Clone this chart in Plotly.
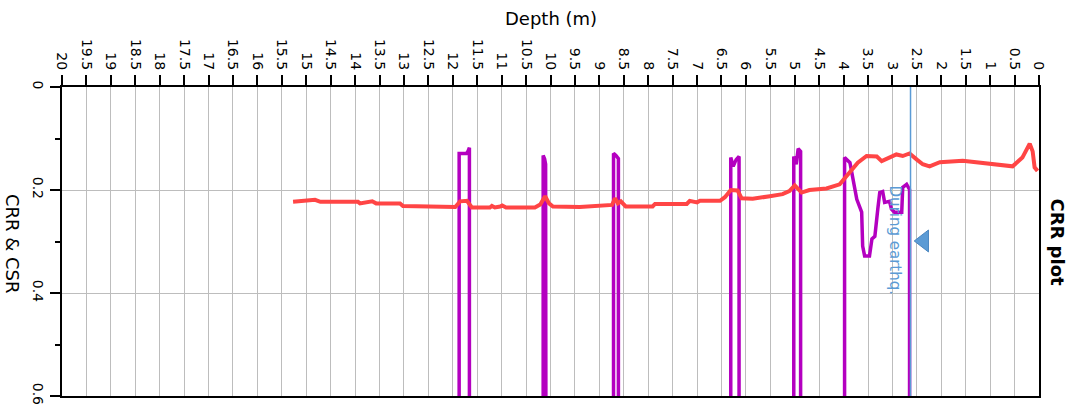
import plotly.graph_objects as go

# ---- data ----
OFF = 1.0  # values beyond the plotted range (clipped)

csr_depth = [15.27, 14.82, 14.71, 13.94, 13.90, 13.65, 13.57, 13.08, 13.02, 11.95, 11.85, 11.71,
             11.61, 11.24, 11.20, 11.14, 11.03, 10.99, 10.91, 10.32, 10.21, 10.11, 10.03, 9.95,
             9.40, 8.74, 8.68, 8.62, 8.56, 8.46, 7.91, 7.86, 7.21, 7.15, 7.00, 6.94, 6.53, 6.43,
             6.31, 6.17, 6.09, 5.86, 5.51, 5.25, 5.11, 5.00, 4.86, 4.70, 4.35, 4.08, 3.87, 3.71,
             3.53, 3.32, 3.22, 3.06, 2.92, 2.79, 2.65, 2.50, 2.38, 2.24, 2.03, 1.56, 1.22, 0.95,
             0.54, 0.34, 0.19, 0.13, 0.09, 0.03]
csr_value = [0.223, 0.219, 0.223, 0.223, 0.226, 0.222, 0.226, 0.226, 0.231, 0.233, 0.222, 0.221,
             0.234, 0.234, 0.231, 0.234, 0.232, 0.230, 0.234, 0.234, 0.228, 0.212, 0.226, 0.232,
             0.233, 0.229, 0.216, 0.226, 0.222, 0.232, 0.232, 0.227, 0.227, 0.221, 0.224, 0.221,
             0.221, 0.214, 0.200, 0.201, 0.216, 0.217, 0.212, 0.208, 0.202, 0.191, 0.205, 0.200,
             0.197, 0.189, 0.165, 0.147, 0.134, 0.135, 0.144, 0.137, 0.131, 0.134, 0.129, 0.141,
             0.150, 0.154, 0.146, 0.143, 0.147, 0.150, 0.154, 0.137, 0.110, 0.125, 0.156, 0.163]

crr_depth = [11.87, 11.87, 11.72, 11.69, 11.66, 11.66, None,
             10.15, 10.15, 10.12, 10.10, 10.09, None,
             8.71, 8.71, 8.66, 8.61, 8.61, None,
             6.31, 6.31, 6.26, 6.20, 6.14, 6.14, None,
             5.02, 5.02, 4.97, 4.93, 4.88, 4.88, None,
             3.98, 3.98, 3.87, 3.81, 3.73, 3.63, 3.61, 3.57, 3.47, 3.42, 3.36, 3.30, 3.26,
             3.20, 3.16, 3.06, 3.02, 2.96, 2.81, 2.79, 2.71, 2.65, 2.65]
crr_value = [OFF, 0.129, 0.129, 0.125, 0.118, OFF, None,
             OFF, 0.133, 0.140, 0.150, OFF, None,
             OFF, 0.129, 0.133, 0.139, OFF, None,
             OFF, 0.137, 0.154, 0.141, 0.135, OFF, None,
             OFF, 0.135, 0.150, 0.120, 0.125, OFF, None,
             OFF, 0.137, 0.147, 0.180, 0.218, 0.243, 0.309, 0.328, 0.328, 0.295, 0.290, 0.237,
             0.205, 0.203, 0.224, 0.222, 0.237, 0.243, 0.243, 0.195, 0.189, 0.199, OFF]

water_depth = 2.63
water_eq_depth = 2.36
water_marker_value = 0.299
water_label = "During earthq."

x_ticks = [i * 0.5 for i in range(41)]
x_ticktext = [("%g" % v) for v in x_ticks]
y_ticks = [0, 0.2, 0.4, 0.6]
y_ticktext = ["0", "0.2", "0.4", "0.6"]

FONT = "DejaVu Sans"
BLUE = "#5b9bd5"

fig = go.Figure()
fig.add_trace(go.Scatter(x=crr_depth, y=crr_value, mode="lines",
                         line=dict(color="#b400c0", width=3.5), connectgaps=False,
                         hoverinfo="skip"))
fig.add_trace(go.Scatter(x=csr_depth, y=csr_value, mode="lines",
                         line=dict(color="#ff4545", width=4), hoverinfo="skip"))
fig.add_trace(go.Scatter(x=[water_depth, water_depth], y=[0, 0.6], mode="lines",
                         line=dict(color=BLUE, width=1.5), hoverinfo="skip"))
fig.add_trace(go.Scatter(x=[water_eq_depth], y=[water_marker_value], mode="markers",
                         marker=dict(symbol="triangle-left", size=19, color=BLUE,
                                     line=dict(color="#4a86c0", width=1)),
                         hoverinfo="skip"))

fig.update_layout(
    width=1072, height=417,
    margin=dict(l=62, r=33, t=87, b=19),
    paper_bgcolor="white", plot_bgcolor="white",
    showlegend=False,
    font=dict(family=FONT, color="black"),
    xaxis=dict(
        side="top", range=[20, 0], tickmode="array", tickvals=x_ticks, ticktext=x_ticktext,
        tickangle=90, ticks="outside", ticklen=10, tickwidth=1.5, tickcolor="black",
        tickfont=dict(family=FONT, size=14, color="black"),
        showline=True, linewidth=2, linecolor="black", mirror=True,
        showgrid=True, gridcolor="#bdbdbd", gridwidth=1, zeroline=False,
    ),
    yaxis=dict(
        range=[0.6, 0], tickmode="array", tickvals=y_ticks, ticktext=y_ticktext,
        tickangle=90, ticks="outside", ticklen=10, tickwidth=1.5, tickcolor="black",
        tickfont=dict(family=FONT, size=14, color="black"),
        minor=dict(tickvals=[0.1, 0.3, 0.5], ticks="outside", ticklen=5, tickwidth=1.5,
                   tickcolor="black", showgrid=False),
        showline=True, linewidth=2, linecolor="black", mirror=True,
        showgrid=True, gridcolor="#bdbdbd", gridwidth=1, zeroline=False,
    ),
    annotations=[
        dict(text="Depth (m)", xref="paper", yref="paper", x=0.5, y=1, yshift=69,
             xanchor="center", yanchor="middle", showarrow=False,
             font=dict(family=FONT, size=18, color="black")),
        dict(text="CRR & CSR", xref="paper", yref="paper", x=0, y=0.492, xshift=-50,
             xanchor="center", yanchor="middle", textangle=90, showarrow=False,
             font=dict(family=FONT, size=18, color="black")),
        dict(text="<b>CRR plot</b>", xref="paper", yref="paper", x=1, y=0.497, xshift=19,
             xanchor="center", yanchor="middle", textangle=90, showarrow=False,
             font=dict(family=FONT, size=18, color="black")),
        dict(text=water_label, xref="x", yref="y", x=2.94, y=0.297,
             xanchor="center", yanchor="middle", textangle=90, showarrow=False,
             font=dict(family=FONT, size=15, color=BLUE)),
    ],
)

fig.write_html("out.html", config={"displayModeBar": False},
               post_script="document.body.style.margin='0px';")
